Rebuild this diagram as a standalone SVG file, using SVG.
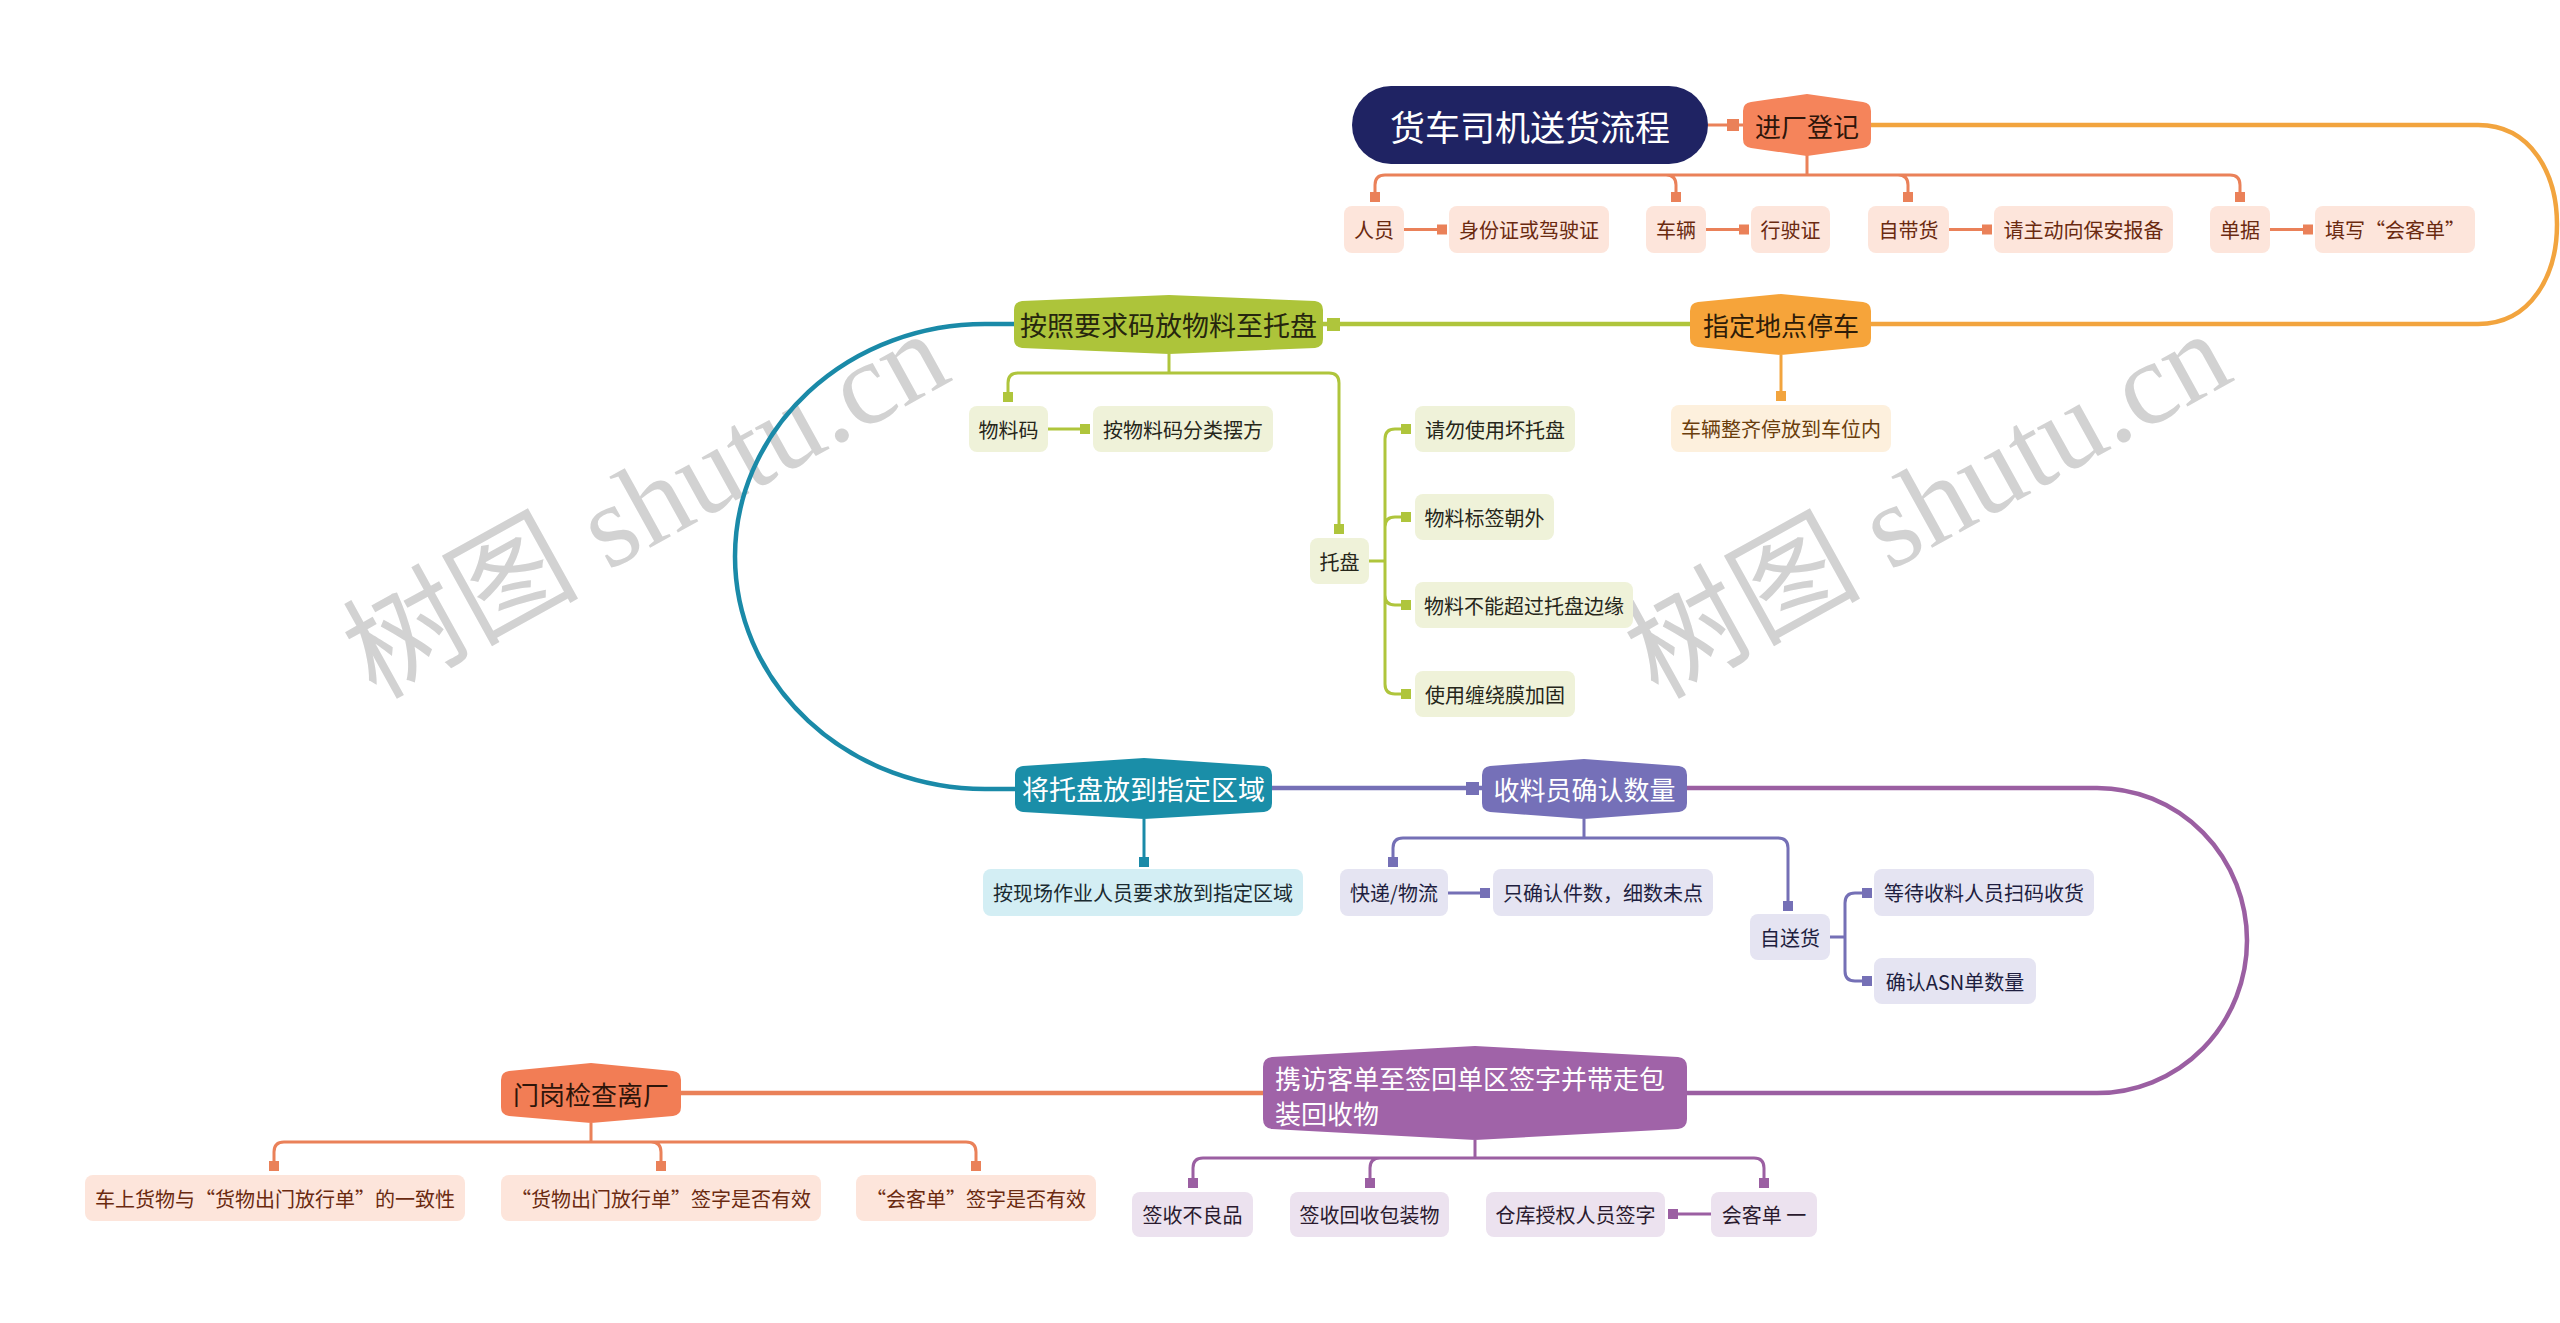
<svg xmlns="http://www.w3.org/2000/svg" width="2560" height="1323" viewBox="0 0 2560 1323">
<style>
text { font-family: "Noto Sans CJK SC", "Liberation Sans", sans-serif; dominant-baseline: central; }
.c { text-anchor: middle; }
.t20 { font-size: 20px; }
.wm { font-family: "Liberation Serif", "Noto Sans CJK SC", serif; font-size: 118px; fill: #d2d2d2; text-anchor: middle; }
.ln { fill: none; stroke-linecap: butt; }
.main { stroke-width: 4.5; }
.sub { stroke-width: 3; }
.o { stroke: #ea8159; } .os { fill: #ea8159; }
.a { stroke: #f2a43e; } .as { fill: #f2a43e; }
.g { stroke: #afc53c; } .gs { fill: #afc53c; }
.tl { stroke: #1a8aa8; } .tls { fill: #1a8aa8; }
.p { stroke: #7570b6; } .ps { fill: #7570b6; }
.m { stroke: #9b5fa2; } .ms { fill: #9b5fa2; }
.bo { fill: #fde5db; } .to { fill: #6a2a10; }
.ba { fill: #fdf0dd; } .ta { fill: #6b3e0c; }
.bg { fill: #eff2d9; } .tg { fill: #26261a; }
.bt { fill: #d3eef4; } .tt { fill: #1a2a30; }
.bp { fill: #e5e4f2; } .tp { fill: #1e1e40; }
.bm { fill: #ece2ef; } .tm { fill: #2a1a2e; }
</style>

<g id="watermarks">
<text class="wm" x="646" y="505" transform="rotate(-29 646 505)">树图 shutu.cn</text>
<text class="wm" x="1928" y="505" transform="rotate(-29 1928 505)">树图 shutu.cn</text>
</g>

<g id="connectors">
<!-- main flow -->
<path class="ln o sub" d="M1708 125 H1743"/>
<rect class="os" x="1727" y="119" width="12" height="12"/>
<path class="ln a main" d="M1871 125 H2478 C2532 125 2557 175 2557 224.5 C2557 274 2532 324 2478 324 H1871"/>
<path class="ln g main" d="M1690 324 H1323"/>
<rect class="gs" x="1327" y="318" width="13" height="13"/>
<path class="ln tl main" d="M1014 324 H985 A250 232.5 0 0 0 985 789 H1015"/>
<path class="ln p main" d="M1272 788 H1482"/>
<rect class="ps" x="1466" y="782" width="13" height="13"/>
<path class="ln m main" d="M1687 788 H2097 A150 152.5 0 0 1 2097 1093 H1687"/>
<path class="ln o main" d="M1263 1093 H681"/>

<!-- 进厂登记 children -->
<path class="ln o sub" d="M1807 155 V175 M1807 175 H1385 Q1375 175 1375 185 V202 M1807 175 H1666 Q1676 175 1676 185 V202 M1807 175 H1898 Q1908 175 1908 185 V202 M1807 175 H2230 Q2240 175 2240 185 V202"/>
<rect class="os" x="1370" y="192" width="10" height="10"/>
<rect class="os" x="1671" y="192" width="10" height="10"/>
<rect class="os" x="1903" y="192" width="10" height="10"/>
<rect class="os" x="2235" y="192" width="10" height="10"/>
<path class="ln o sub" d="M1404 229.5 H1447 M1706 229.5 H1749 M1949 229.5 H1992 M2270 229.5 H2313"/>
<rect class="os" x="1437" y="224.5" width="10" height="10"/>
<rect class="os" x="1739" y="224.5" width="10" height="10"/>
<rect class="os" x="1982" y="224.5" width="10" height="10"/>
<rect class="os" x="2303" y="224.5" width="10" height="10"/>

<!-- 指定地点停车 child -->
<path class="ln a sub" d="M1781 355 V400"/>
<rect class="as" x="1776" y="391" width="10" height="10"/>

<!-- 按照要求码放物料至托盘 children -->
<path class="ln g sub" d="M1169 354 V373 M1169 373 H1018 Q1008 373 1008 383 V401 M1169 373 H1329 Q1339 373 1339 383 V533"/>
<rect class="gs" x="1003" y="392" width="10" height="10"/>
<rect class="gs" x="1334" y="524" width="10" height="10"/>
<path class="ln g sub" d="M1048 429 H1089"/>
<rect class="gs" x="1080" y="424" width="10" height="10"/>
<path class="ln g sub" d="M1369 561 H1385 M1385 561 V439 Q1385 429 1395 429 H1410 M1385 561 V527 Q1385 517 1395 517 H1410 M1385 561 V595 Q1385 605 1395 605 H1410 M1385 561 V684 Q1385 694 1395 694 H1410"/>
<rect class="gs" x="1401" y="424" width="10" height="10"/>
<rect class="gs" x="1401" y="512" width="10" height="10"/>
<rect class="gs" x="1401" y="600" width="10" height="10"/>
<rect class="gs" x="1401" y="689" width="10" height="10"/>

<!-- 将托盘放到指定区域 child -->
<path class="ln tl sub" d="M1144 819 V866"/>
<rect class="tls" x="1139" y="857" width="10" height="10"/>

<!-- 收料员确认数量 children -->
<path class="ln p sub" d="M1584 819 V838 M1584 838 H1403 Q1393 838 1393 848 V866 M1584 838 H1778 Q1788 838 1788 848 V910"/>
<rect class="ps" x="1388" y="857" width="10" height="10"/>
<rect class="ps" x="1783" y="901" width="10" height="10"/>
<path class="ln p sub" d="M1448 893 H1489"/>
<rect class="ps" x="1480" y="888" width="10" height="10"/>
<path class="ln p sub" d="M1830 937 H1845 M1845 937 V903 Q1845 893 1855 893 H1871 M1845 937 V971 Q1845 981 1855 981 H1871"/>
<rect class="ps" x="1862" y="888" width="10" height="10"/>
<rect class="ps" x="1862" y="976" width="10" height="10"/>

<!-- 门岗检查离厂 children -->
<path class="ln o sub" d="M591 1123 V1142 M591 1142 H284 Q274 1142 274 1152 V1170 M591 1142 H651 Q661 1142 661 1152 V1170 M591 1142 H966 Q976 1142 976 1152 V1170"/>
<rect class="os" x="269" y="1161" width="10" height="10"/>
<rect class="os" x="656" y="1161" width="10" height="10"/>
<rect class="os" x="971" y="1161" width="10" height="10"/>

<!-- 携访客单 children -->
<path class="ln m sub" d="M1475 1140 V1158 M1475 1158 H1203 Q1193 1158 1193 1168 V1187 M1475 1158 H1380 Q1370 1158 1370 1168 V1187 M1475 1158 H1754 Q1764 1158 1764 1168 V1187"/>
<rect class="ms" x="1188" y="1178" width="10" height="10"/>
<rect class="ms" x="1365" y="1178" width="10" height="10"/>
<rect class="ms" x="1759" y="1178" width="10" height="10"/>
<path class="ln m sub" d="M1711 1214 H1669"/>
<rect class="ms" x="1668" y="1209" width="10" height="10"/>
</g>

<g id="root">
<rect x="1352" y="86" width="356" height="78" rx="39" fill="#1f2363"/>
<text class="c" x="1530" y="125" font-size="35" fill="#ffffff">货车司机送货流程</text>
</g>

<g id="n-jinchang">
<path d="M1743 111 Q1743 103 1751 102 L1807 94 L1863 102 Q1871 103 1871 111 V139 Q1871 147 1863 148 L1807 156 L1751 148 Q1743 147 1743 139 Z" fill="#f5845b"/>
<text class="c" x="1807" y="125" font-size="26" fill="#2e150a">进厂登记</text>
</g>
<g id="n-renyuan"><rect class="bo" x="1344" y="206" width="60" height="47" rx="8"/><text class="c t20 to" x="1374" y="229.5">人员</text></g>
<g id="n-shenfen"><rect class="bo" x="1449" y="206" width="160" height="47" rx="8"/><text class="c t20 to" x="1529" y="229.5">身份证或驾驶证</text></g>
<g id="n-cheliang"><rect class="bo" x="1646" y="206" width="60" height="47" rx="8"/><text class="c t20 to" x="1676" y="229.5">车辆</text></g>
<g id="n-xingshi"><rect class="bo" x="1751" y="206" width="79" height="47" rx="8"/><text class="c t20 to" x="1790.5" y="229.5">行驶证</text></g>
<g id="n-zidai"><rect class="bo" x="1868" y="206" width="81" height="47" rx="8"/><text class="c t20 to" x="1908.5" y="229.5">自带货</text></g>
<g id="n-baoan"><rect class="bo" x="1994" y="206" width="179" height="47" rx="8"/><text class="c t20 to" x="2083.5" y="229.5">请主动向保安报备</text></g>
<g id="n-danju"><rect class="bo" x="2210" y="206" width="60" height="47" rx="8"/><text class="c t20 to" x="2240" y="229.5">单据</text></g>
<g id="n-tianxie"><rect class="bo" x="2315" y="206" width="160" height="47" rx="8"/><text class="c t20 to" x="2395" y="229.5">填写“会客单”</text></g>

<g id="n-zhiding">
<path d="M1690 311 Q1690 303 1698 302 L1781 294 L1863 302 Q1871 303 1871 311 V338 Q1871 346 1863 347 L1781 355 L1698 347 Q1690 346 1690 338 Z" fill="#f6a43a"/>
<text class="c" x="1781" y="324" font-size="26" fill="#2e1c08">指定地点停车</text>
</g>
<g id="n-zhengqi"><rect class="ba" x="1671" y="405" width="220" height="47" rx="8"/><text class="c t20 ta" x="1781" y="428.5">车辆整齐停放到车位内</text></g>

<g id="n-anzhao">
<path d="M1014 310 Q1014 302 1022 301 L1169 295 L1315 301 Q1323 302 1323 310 V339 Q1323 347 1315 348 L1169 354 L1022 348 Q1014 347 1014 339 Z" fill="#adc43a"/>
<text class="c" x="1168.5" y="324" font-size="27" fill="#26260e">按照要求码放物料至托盘</text>
</g>
<g id="n-wuliaoma"><rect class="bg" x="969" y="406" width="79" height="46" rx="8"/><text class="c t20 tg" x="1008.5" y="429">物料码</text></g>
<g id="n-anwuliao"><rect class="bg" x="1093" y="406" width="180" height="46" rx="8"/><text class="c t20 tg" x="1183" y="429">按物料码分类摆方</text></g>
<g id="n-tuopan"><rect class="bg" x="1310" y="538" width="59" height="46" rx="8"/><text class="c t20 tg" x="1339.5" y="561">托盘</text></g>
<g id="n-qingwu"><rect class="bg" x="1415" y="406" width="160" height="46" rx="8"/><text class="c t20 tg" x="1495" y="429">请勿使用坏托盘</text></g>
<g id="n-biaoqian"><rect class="bg" x="1415" y="494" width="139" height="46" rx="8"/><text class="c t20 tg" x="1484.5" y="517">物料标签朝外</text></g>
<g id="n-chaoguo"><rect class="bg" x="1415" y="582" width="218" height="46" rx="8"/><text class="c t20 tg" x="1524" y="605">物料不能超过托盘边缘</text></g>
<g id="n-chanrao"><rect class="bg" x="1415" y="671" width="160" height="46" rx="8"/><text class="c t20 tg" x="1495" y="694">使用缠绕膜加固</text></g>

<g id="n-jiangtuopan">
<path d="M1015 775 Q1015 767 1023 766 L1144 758 L1264 766 Q1272 767 1272 775 V803 Q1272 811 1264 812 L1144 819 L1023 812 Q1015 811 1015 803 Z" fill="#1a8ea8"/>
<text class="c" x="1143.5" y="788.5" font-size="27" fill="#ffffff">将托盘放到指定区域</text>
</g>
<g id="n-anxianchang"><rect class="bt" x="983" y="869" width="320" height="47" rx="8"/><text class="c t20 tt" x="1143" y="892.5">按现场作业人员要求放到指定区域</text></g>

<g id="n-shouliao">
<path d="M1482 775 Q1482 767 1490 766 L1584 759 L1679 766 Q1687 767 1687 775 V803 Q1687 811 1679 812 L1584 819 L1490 812 Q1482 811 1482 803 Z" fill="#7570b8"/>
<text class="c" x="1584.5" y="788.5" font-size="26" fill="#ffffff">收料员确认数量</text>
</g>
<g id="n-kuaidi"><rect class="bp" x="1340" y="869" width="108" height="47" rx="8"/><text class="c t20 tp" x="1394" y="892.5">快递/物流</text></g>
<g id="n-zhiqueren"><rect class="bp" x="1493" y="869" width="220" height="47" rx="8"/><text class="c t20 tp" x="1603" y="892.5">只确认件数，细数未点</text></g>
<g id="n-zisong"><rect class="bp" x="1750" y="914" width="80" height="46" rx="8"/><text class="c t20 tp" x="1790" y="937">自送货</text></g>
<g id="n-dengdai"><rect class="bp" x="1874" y="869" width="220" height="47" rx="8"/><text class="c t20 tp" x="1984" y="892.5">等待收料人员扫码收货</text></g>
<g id="n-asn"><rect class="bp" x="1874" y="958" width="162" height="46" rx="8"/><text class="c t20 tp" x="1955" y="981">确认ASN单数量</text></g>

<g id="n-xiefang">
<path d="M1263 1067 Q1263 1058 1272 1057 L1475 1046 L1678 1057 Q1687 1058 1687 1067 V1119 Q1687 1128 1678 1129 L1475 1140 L1272 1129 Q1263 1128 1263 1119 Z" fill="#a063a8"/>
<text x="1275" y="1077" font-size="26" fill="#ffffff">携访客单至签回单区签字并带走包</text>
<text x="1275" y="1112" font-size="26" fill="#ffffff">装回收物</text>
</g>
<g id="n-buliang"><rect class="bm" x="1132" y="1192" width="121" height="45" rx="8"/><text class="c t20 tm" x="1192.5" y="1214.5">签收不良品</text></g>
<g id="n-huishou"><rect class="bm" x="1290" y="1192" width="159" height="45" rx="8"/><text class="c t20 tm" x="1369.5" y="1214.5">签收回收包装物</text></g>
<g id="n-cangku"><rect class="bm" x="1486" y="1192" width="179" height="45" rx="8"/><text class="c t20 tm" x="1575.5" y="1214.5">仓库授权人员签字</text></g>
<g id="n-huikedan"><rect class="bm" x="1711" y="1192" width="106" height="45" rx="8"/><text class="c t20 tm" x="1764" y="1214.5">会客单 一</text></g>

<g id="n-menggang">
<path d="M501 1080 Q501 1072 509 1071 L591 1063 L673 1071 Q681 1072 681 1080 V1107 Q681 1115 673 1116 L591 1123 L509 1116 Q501 1115 501 1107 Z" fill="#f27d55"/>
<text class="c" x="591" y="1093" font-size="26" fill="#2e150a">门岗检查离厂</text>
</g>
<g id="n-yizhi"><rect class="bo" x="85" y="1175" width="380" height="46" rx="8"/><text class="c t20 to" x="275" y="1198">车上货物与“货物出门放行单”的一致性</text></g>
<g id="n-fangxing"><rect class="bo" x="501" y="1175" width="320" height="46" rx="8"/><text class="c t20 to" x="661" y="1198">“货物出门放行单”签字是否有效</text></g>
<g id="n-huikeqz"><rect class="bo" x="856" y="1175" width="240" height="46" rx="8"/><text class="c t20 to" x="976" y="1198">“会客单”签字是否有效</text></g>
</svg>
